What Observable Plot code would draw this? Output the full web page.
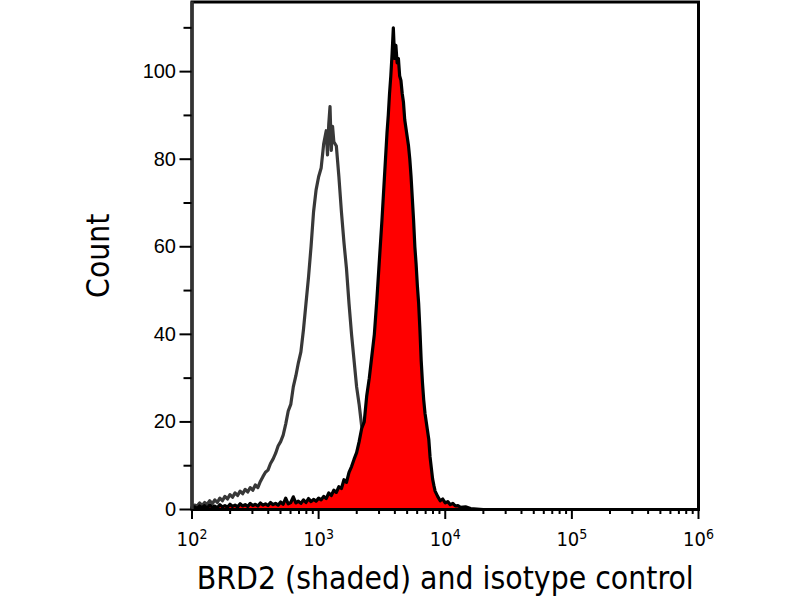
<!DOCTYPE html>
<html>
<head>
<meta charset="utf-8">
<script src="https://cdn.jsdelivr.net/npm/d3@7"></script>
<script src="https://cdn.jsdelivr.net/npm/@observablehq/plot@0.6"></script>
<style>
  html, body { margin: 0; padding: 0; background: white; }
  #chart { width: 800px; height: 600px; }
  #chart g[aria-label$="tick"] { stroke-width: 2px; }
  #chart g[aria-label="y-axis tick label"] { font-size: 20px; }
  #chart g[aria-label="x-axis tick label"] { font-size: 20px; }
</style>
</head>
<body>
<div id="chart"></div>
<script>
// Isotype control (grey outline): log10(fluorescence) and counts
const isoLog = [2.00,2.02,2.04,2.06,2.08,2.10,2.12,2.14,2.16,2.18,2.20,2.22,2.24,2.26,2.28,2.30,2.32,2.34,2.36,2.38,
  2.40,2.42,2.44,2.46,2.48,2.50,2.52,2.54,2.56,2.58,2.60,2.62,2.64,2.66,2.68,2.70,2.72,2.74,2.76,2.78,
  2.80,2.82,2.84,2.86,2.88,2.90,2.92,2.94,2.96,2.98,3.00,3.02,3.04,3.06,3.07,3.08,3.09,3.10,3.11,3.12,
  3.14,3.16,3.18,3.20,3.22,3.24,3.26,3.28,3.30,3.32,3.34,3.36,3.38,3.40,3.44,3.48,3.52,3.58,3.66,3.76,3.90];
const isoCount = [0.5,1.0,0.8,1.5,0.9,1.6,1.2,2.0,1.3,2.2,1.6,2.6,2.0,3.0,2.4,3.4,2.8,3.8,3.2,4.2,
  3.6,4.6,4.0,5.0,4.4,5.6,5.0,6.4,7.5,8.5,9.0,10.5,11.5,12.8,14.5,15.5,17.0,19.5,22.5,24.0,
  28.0,30.5,33.5,36.0,41.0,47.0,53.0,60.0,68.0,73.0,76.0,78.0,83.5,86.5,81.0,88.0,92.0,82.0,87.5,84.0,
  83.0,76.0,68.0,61.0,55.0,47.0,40.0,34.0,28.0,24.0,19.0,16.0,12.0,9.5,6.0,4.0,2.5,1.5,0.8,0.3,0];

// BRD2 (shaded red, black outline)
const brdLog = [2.00,2.02,2.04,2.06,2.08,2.10,2.12,2.14,2.16,2.18,2.20,2.22,2.24,2.26,2.28,2.30,2.32,2.34,2.36,2.38,
  2.40,2.42,2.44,2.46,2.48,2.50,2.52,2.54,2.56,2.58,2.60,2.62,2.64,2.66,2.68,2.70,2.72,2.74,2.76,2.78,
  2.80,2.82,2.84,2.86,2.88,2.90,2.92,2.94,2.96,2.98,3.00,3.02,3.04,3.06,3.08,3.10,3.12,3.14,3.16,3.18,
  3.20,3.22,3.24,3.26,3.28,3.30,3.32,3.34,3.36,3.38,3.40,3.42,3.44,3.46,3.48,3.50,3.52,3.54,3.55,3.56,
  3.57,3.58,3.59,3.60,3.61,3.62,3.63,3.64,3.65,3.66,3.67,3.68,3.69,3.70,3.71,3.72,3.73,3.74,3.75,3.76,
  3.77,3.78,3.79,3.80,3.81,3.82,3.83,3.84,3.85,3.86,3.87,3.88,3.89,3.90,3.91,3.92,3.94,3.96,3.98,4.00,
  4.02,4.04,4.06,4.08,4.10,4.12,4.16,4.20,4.25,4.30];
const brdCount = [0.3,0.6,0.2,0.8,0.4,0.9,0.3,1.0,0.5,0.8,0.4,1.1,0.6,0.9,0.5,1.2,0.7,1.0,0.6,1.3,
  0.8,1.1,0.7,1.4,0.9,1.2,0.8,1.5,1.0,1.3,0.9,1.6,1.1,1.4,1.0,1.7,1.2,2.6,1.3,1.6,
  2.9,1.5,1.9,1.4,2.2,1.6,2.5,1.8,2.3,1.9,2.6,2.2,3.0,2.5,3.8,3.2,4.4,3.9,5.2,4.8,
  6.8,6.2,8.5,9.8,11.5,13.0,15.5,18.5,20.0,26.0,30.0,35.0,40.0,48.0,57.0,66.0,76.0,86.0,90.0,95.0,
  99.0,104.0,110.0,103.0,106.0,102.0,103.0,99.0,98.0,95.0,93.0,89.0,87.0,85.0,83.0,80.0,76.0,71.0,66.0,60.0,
  56.0,51.0,47.0,41.0,34.0,29.0,25.0,22.0,20.0,18.0,16.0,12.0,9.5,7.0,5.5,4.2,3.0,2.0,2.4,1.5,
  1.8,1.1,1.4,0.8,0.9,0.5,0.6,0.2,0.1,0];

const majorX = [1e2, 1e3, 1e4, 1e5, 1e6];
const majorExp = ["2", "3", "4", "5", "6"];
const minorMult = [2, 3, 4, 5, 6, 7, 8, 9];
const majorY = [0, 20, 40, 60, 80, 100];
const minorY = [10, 30, 50, 70, 90, 110];
const xTitle = "BRD2 (shaded) and isotype control";
const yTitle = "Count";

const iso = isoLog.map((l, i) => ({x: Math.pow(10, l), y: isoCount[i]}));
const brd = brdLog.map((l, i) => ({x: Math.pow(10, l), y: brdCount[i]}));
const minorX = majorX.slice(0, -1).flatMap(d => minorMult.map(m => m * d));

const titleFont = "'DejaVu Sans Condensed', 'DejaVu Sans', sans-serif";

const chart = Plot.plot({
  width: 800,
  height: 600,
  marginLeft: 191.5,
  marginRight: 102,
  marginTop: 1.5,
  marginBottom: 91,
  x: {type: "log", domain: [1e2, 1e6]},
  y: {domain: [0, 115.9]},
  style: {fontFamily: "'Liberation Sans', Arial, sans-serif", background: "white", color: "black"},
  marks: [
    Plot.lineY(iso, {x: "x", y: "y", stroke: "#383838", strokeWidth: 3.2}),
    Plot.areaY(brd, {x: "x", y: "y", fill: "#ff0000"}),
    Plot.lineY(brd, {x: "x", y: "y", stroke: "black", strokeWidth: 3.2}),
    Plot.frame({stroke: "black", strokeWidth: 3}),
    Plot.ruleX([1e2], {stroke: "#333", strokeWidth: 3.4}),
    Plot.axisY(majorY, {tickSize: 12, tickPadding: 4, fontSize: 20, label: null}),
    Plot.axisY(minorY, {tickSize: 8, tickFormat: () => "", label: null}),
    Plot.axisX(majorX, {tickSize: 10, tickPadding: 12, fontSize: 20, label: null,
      fontFamily: titleFont,
      tickFormat: (d) => "10^" + majorExp[majorX.indexOf(d)]}),
    Plot.axisX(minorX, {tickSize: 5, tickFormat: () => "", label: null}),
    Plot.text([xTitle], {frameAnchor: "bottom", lineAnchor: "bottom", dy: 79, fontSize: 31.6,
      fontFamily: titleFont, fill: "black", text: d => d}),
    Plot.text([yTitle], {frameAnchor: "left", textAnchor: "middle", lineAnchor: "bottom", rotate: -90, dx: -83, fontSize: 31.6,
      fontFamily: titleFont, fill: "black", text: d => d})
  ]
});
// Render "10^n" tick labels with a real superscript
d3.select(chart).selectAll("text").each(function () {
  const t = this.textContent;
  const m = /^10\^(\d)$/.exec(t);
  if (m) {
    const sel = d3.select(this);
    sel.text("10");
    sel.append("tspan").attr("font-size", 14).attr("dy", "-0.5em").text(m[1]);
  }
});
document.getElementById("chart").appendChild(chart);
</script>
</body>
</html>
